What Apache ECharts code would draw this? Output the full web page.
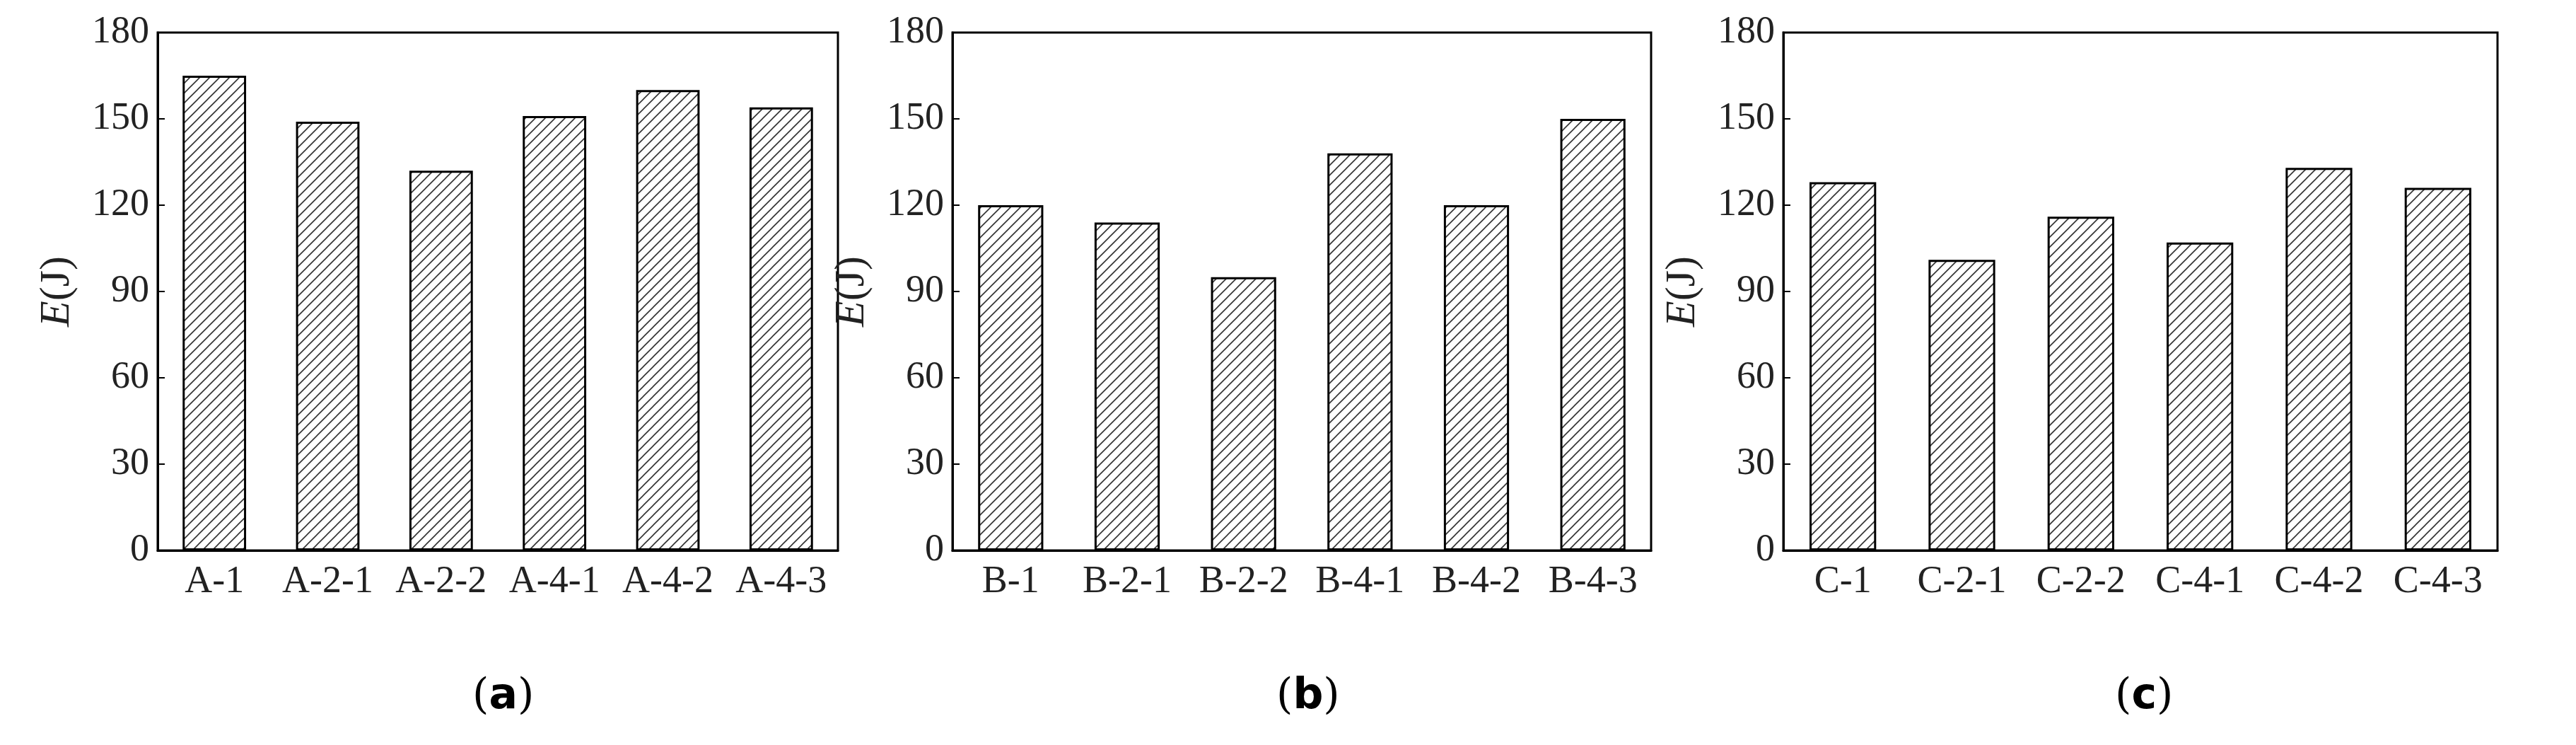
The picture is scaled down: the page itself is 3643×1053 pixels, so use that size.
<!DOCTYPE html>
<html>
<head>
<meta charset="utf-8">
<script src="https://cdn.jsdelivr.net/npm/echarts@6/dist/echarts.min.js"></script>
<style>html,body{margin:0;padding:0;background:#fff}#main{width:3643px;height:1053px}</style>
</head>
<body>
<div id="main"></div>
<script>
var catA = ['A-1', 'A-2-1', 'A-2-2', 'A-4-1', 'A-4-2', 'A-4-3'];
var catB = ['B-1', 'B-2-1', 'B-2-2', 'B-4-1', 'B-4-2', 'B-4-3'];
var catC = ['C-1', 'C-2-1', 'C-2-2', 'C-4-1', 'C-4-2', 'C-4-3'];
var valA = [165, 149, 132, 151, 160, 154];
var valB = [120, 114, 95, 138, 120, 150];
var valC = [128, 101, 116, 107, 133, 126];
var yTicks = [0, 30, 60, 90, 120, 150, 180];
var panelLabels = ['a', 'b', 'c'];

// hatch pattern
var pat = document.createElement('canvas');
pat.width = 14; pat.height = 14;
var ctx = pat.getContext('2d');
ctx.fillStyle = '#fff';
ctx.fillRect(0, 0, 14, 14);
ctx.strokeStyle = '#333';
ctx.lineWidth = 1.6;
ctx.beginPath();
ctx.moveTo(0, 14); ctx.lineTo(14, 0);
ctx.moveTo(-7, 7); ctx.lineTo(7, -7);
ctx.moveTo(7, 21); ctx.lineTo(21, 7);
ctx.stroke();

var cats = [catA, catB, catC];
var vals = [valA, valB, valC];
var lefts = [223, 1347, 2522];
var widths = [962, 988, 1010];
var font = 'Liberation Serif';

var grids = [], xAxes = [], yAxes = [], series = [], graphics = [];
for (var i = 0; i < 3; i++) {
    grids.push({left: lefts[i], width: widths[i], top: 46, height: 732, show: true, borderColor: '#000', borderWidth: 3});
    xAxes.push({
        type: 'category', gridIndex: i, data: cats[i],
        axisLine: {lineStyle: {color: '#000', width: 3}},
        axisTick: {show: false},
        axisLabel: {color: '#222', fontFamily: font, fontSize: 54, margin: 18, interval: 0}
    });
    yAxes.push({
        type: 'value', gridIndex: i, min: 0, max: 180, interval: 30,
        name: '{i|E}(J)', nameLocation: 'middle', nameGap: 112, nameRotate: 90,
        nameTextStyle: {fontFamily: font, fontSize: 60, color: '#222', rich: {i: {fontStyle: 'italic', fontFamily: font, fontSize: 60}}},
        splitLine: {show: false},
        axisLine: {show: true, lineStyle: {color: '#000', width: 3}},
        axisTick: {show: true, inside: true, length: 10, lineStyle: {color: '#000', width: 2}},
        axisLabel: {color: '#222', fontFamily: font, fontSize: 54, margin: 12,
            formatter: function (v) { return yTicks.indexOf(v) >= 0 ? String(v) : ''; }}
    });
    series.push({
        type: 'bar', xAxisIndex: i, yAxisIndex: i, data: vals[i], barWidth: '56%',
        itemStyle: {color: {image: pat, repeat: 'repeat'}, borderColor: '#000', borderWidth: 3}
    });
    graphics.push({
        type: 'text', left: lefts[i] + widths[i] / 2 - 36, top: 955,
        style: {text: '({b|' + panelLabels[i] + '})', fontFamily: 'DejaVu Serif', fontSize: 60, fill: '#000',
            rich: {b: {fontWeight: 'bold', fontFamily: 'DejaVu Sans', fontSize: 60}}}
    });
}

var myChart = echarts.init(document.getElementById('main'));
myChart.setOption({
    animation: false,
    grid: grids, xAxis: xAxes, yAxis: yAxes, series: series, graphic: graphics
});
</script>
</body>
</html>
